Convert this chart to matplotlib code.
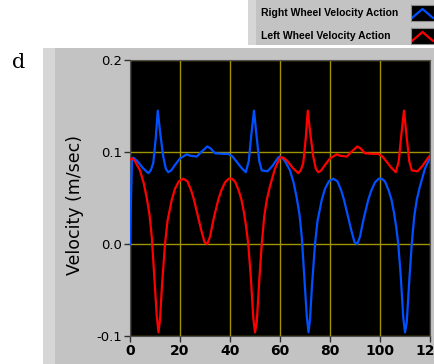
import matplotlib
matplotlib.use("Agg")
import matplotlib.pyplot as plt
from matplotlib.patches import Rectangle

W, H = 435, 364

# Left Wheel Velocity Action (red)
red_x = [0, 1, 2, 4, 5.5, 6.7, 7.8, 8.7, 9.7, 10.7, 11.4, 12, 12.8, 14, 15, 16.7, 18, 19.5, 21.3, 23,
         24.5, 25.6, 27, 28.5, 29.8, 30.9, 32, 33.5, 35.3, 36.5, 38, 39.5, 40.7, 42, 43.5, 44.6, 45.6, 46.5, 47.3, 48.3,
         49.3, 50, 50.7, 51.7, 52.7, 53.7, 54.7, 56, 58, 60,
         61.3, 63, 65, 67.3, 68.3, 69.3, 70.3, 71.1, 72.2, 73.3, 74.3, 75.3, 76.5, 78, 80, 82.7, 84, 86.7, 88.5, 90.9,
         92.2, 94, 97, 99.3, 101, 102.5, 104.5, 106.3, 107.5, 108.5, 109.6, 110.6, 111.7, 112.7, 115, 117, 119.3, 120]
red_y = [0.092, 0.093, 0.090, 0.080, 0.066, 0.050, 0.032, 0.008, -0.035, -0.078, -0.096, -0.082, -0.045, 0.000, 0.025, 0.048, 0.060, 0.068, 0.071, 0.068,
         0.058, 0.048, 0.032, 0.015, 0.002, 0.000, 0.008, 0.028, 0.048, 0.058, 0.067, 0.071, 0.071, 0.068, 0.058, 0.048, 0.034, 0.018, 0.000, -0.035,
         -0.080, -0.096, -0.085, -0.040, 0.000, 0.030, 0.048, 0.063, 0.082, 0.094,
         0.094, 0.090, 0.083, 0.077, 0.080, 0.088, 0.115, 0.145, 0.118, 0.095, 0.082, 0.078, 0.080, 0.086, 0.093, 0.0975, 0.096, 0.095, 0.100, 0.106,
         0.104, 0.0986, 0.098, 0.098, 0.095, 0.090, 0.083, 0.078, 0.090, 0.118, 0.145, 0.118, 0.090, 0.080, 0.079, 0.085, 0.094, 0.096]

# Right Wheel Velocity Action (blue)
blue_x = [0, 0.4, 0.8, 1.3, 3, 5, 7.3, 8.3, 9.3, 10.3, 11.1, 12.2, 13.3, 14.3, 15.3, 16.5, 18, 20, 22.7, 24,
          26.7, 28.5, 30.9, 32.2, 34, 37, 39.3, 41, 42.5, 44.5, 46.3, 47.5, 48.5, 49.6, 50.6, 51.7, 52.7, 55, 57, 59.3,
          60, 61, 62, 64, 65.5, 66.7, 67.8, 68.7, 69.7, 70.7, 71.4, 72, 72.8, 74, 75, 76.7, 78, 79.5, 81.3, 83,
          84.5, 85.6, 87, 88.5, 89.8, 90.9, 92, 93.5, 95.3, 96.5, 98, 99.5, 100.7, 102, 103.5, 104.6, 105.6, 106.5, 107.3, 108.3,
          109.3, 110, 110.7, 111.7, 112.7, 113.7, 114.7, 116, 118, 120]
blue_y = [0.0, 0.05, 0.09, 0.094, 0.090, 0.083, 0.077, 0.080, 0.088, 0.115, 0.145, 0.118, 0.095, 0.082, 0.078, 0.080, 0.086, 0.093, 0.0975, 0.096,
          0.095, 0.100, 0.106, 0.104, 0.0986, 0.098, 0.098, 0.095, 0.090, 0.083, 0.078, 0.090, 0.118, 0.145, 0.118, 0.090, 0.080, 0.079, 0.085, 0.094,
          0.095, 0.093, 0.090, 0.080, 0.066, 0.050, 0.032, 0.008, -0.035, -0.078, -0.096, -0.082, -0.045, 0.000, 0.025, 0.048, 0.060, 0.068, 0.071, 0.068,
          0.058, 0.048, 0.032, 0.015, 0.002, 0.000, 0.008, 0.028, 0.048, 0.058, 0.067, 0.071, 0.071, 0.068, 0.058, 0.048, 0.034, 0.018, 0.000, -0.035,
          -0.080, -0.096, -0.085, -0.040, 0.000, 0.030, 0.048, 0.063, 0.082, 0.094]

x_ticks = [0, 20, 40, 60, 80, 100, 120]
y_ticks = [-0.1, 0.0, 0.1, 0.2]
series_names = ["Right Wheel Velocity Action", "Left Wheel Velocity Action"]
series_colors = ["#0050ff", "#ff0000"]
grid_col = "#a09400"


def fx(px):
    return px / W


def fy(py):
    return 1 - py / H


fig = plt.figure(figsize=(W / 100, H / 100), dpi=100)
fig.patch.set_facecolor("white")

# grey graph panel and legend box
panels = [
    ((43, 48, W, H), "#c3c3c3"),
    ((43, 48, 55, H), "#d6d6d6"),
    ((248, 0, W, 45), "#d6d6d6"),
    ((256, 0, W, 45), "#c3c3c3"),
]
for (x0, y0, x1, y1), c in panels:
    fig.patches.append(Rectangle((fx(x0), fy(y1)), fx(x1 - x0), fy(y0) - fy(y1),
                                 transform=fig.transFigure, facecolor=c, edgecolor="none", zorder=-10))

ax = fig.add_axes([fx(130), fy(336), fx(300), fy(60) - fy(336)])
ax.set_facecolor("black")
ax.plot(blue_x, blue_y, color=series_colors[0], lw=1.6, zorder=3)
ax.plot(red_x, red_y, color=series_colors[1], lw=1.6, zorder=3)
ax.set_xlim(0, 120)
ax.set_ylim(-0.1, 0.2)
ax.set_xticks(x_ticks)
ax.set_yticks(y_ticks)
ax.set_yticklabels([f"{v:.1f}" for v in y_ticks])
ax.grid(True, color=grid_col, lw=1.0)
ax.tick_params(axis="both", length=4, width=1, color="#303030", pad=2)
ax.tick_params(axis="y", labelsize=9.5)
ax.tick_params(axis="x", labelsize=10)
for lab in ax.get_xticklabels():
    lab.set_fontweight("bold")
for s in ax.spines.values():
    s.set_color("#505050")
ax.set_ylabel("Velocity (m/sec)", fontsize=12.5)
ax.yaxis.set_label_coords(-0.153, 0.475)

# legend rows
rows_y = [13, 36]
for name, col, ry in zip(series_names, series_colors, rows_y):
    fig.text(fx(261), fy(ry), name, fontsize=7.5, fontweight="bold", va="center", ha="left",
             family=["Liberation Sans", "DejaVu Sans"])
    sw = fig.add_axes([fx(411), fy(ry + 8), fx(23), fy(ry - 8) - fy(ry + 8)])
    sw.set_facecolor("black")
    sw.plot([0.05, 0.5, 0.95], [0.2, 0.75, 0.2], color=col, lw=1.6)
    sw.set_xlim(0, 1)
    sw.set_ylim(0, 1)
    sw.set_xticks([])
    sw.set_yticks([])
    for s in sw.spines.values():
        s.set_color("#8a8a8a")

fig.text(fx(12), fy(62), "d", fontsize=15, family="DejaVu Serif", va="center", ha="left")

fig.savefig("out.png", dpi=100)
